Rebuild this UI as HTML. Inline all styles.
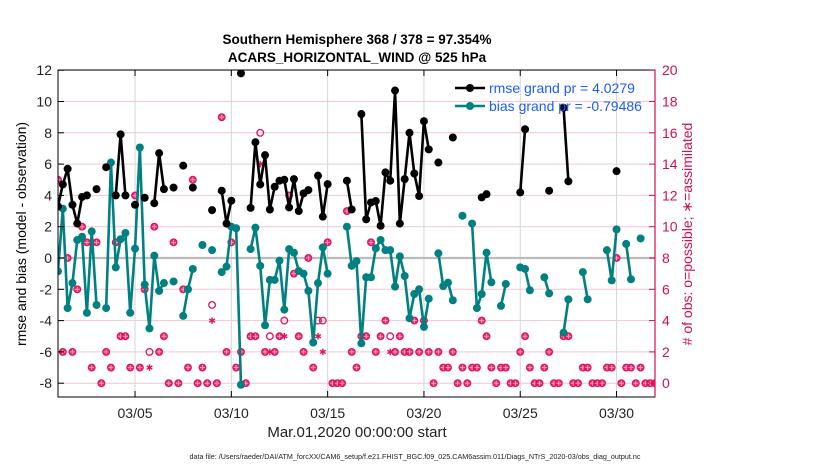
<!DOCTYPE html>
<html><head><meta charset="utf-8"><style>
html,body{margin:0;padding:0;background:#fff;}
svg{display:block;font-family:"Liberation Sans",Arial,sans-serif;}
</style></head><body>
<svg id="chart" width="830" height="470" viewBox="0 0 830 470">
<rect width="830" height="470" fill="#fff"/>
<text x="357" y="44" text-anchor="middle" font-size="13.5" font-weight="bold">Southern Hemisphere 368 / 378 = 97.354%</text>
<text x="357" y="62" text-anchor="middle" font-size="13.5" font-weight="bold">ACARS_HORIZONTAL_WIND @ 525 hPa</text>
<g id="grid"></g>
<g id="plot" clip-path="url(#clip)"></g>
<defs><clipPath id="clip"><rect x="58" y="70" width="597" height="327"/></clipPath></defs>
<rect x="58" y="70" width="597" height="327" fill="none" stroke="#000" stroke-width="1"/>
<line x1="655" y1="70" x2="655" y2="397" stroke="#d01050" stroke-width="1.2"/>
<g id="axes"></g>
<text transform="translate(26,234) rotate(-90)" text-anchor="middle" font-size="14">rmse and bias (model - observation)</text>
<text transform="translate(692,234) rotate(-90)" text-anchor="middle" font-size="14" fill="#d01050"># of obs: o=possible; ∗=assimilated</text>
<text x="357" y="437" text-anchor="middle" font-size="15" fill="#222">Mar.01,2020 00:00:00 start</text>
<text x="415" y="459" text-anchor="middle" font-size="7.2" fill="#222">data file: /Users/raeder/DAI/ATM_forcXX/CAM6_setup/f.e21.FHIST_BGC.f09_025.CAM6assim.011/Diags_NTrS_2020-03/obs_diag_output.nc</text>
<g>
<rect x="450" y="76" width="200" height="38" fill="#fff" fill-opacity="0.0"/>
<line x1="455" y1="88" x2="485" y2="88" stroke="#000" stroke-width="2.5"/>
<circle cx="470" cy="88" r="4" fill="#000"/>
<text x="489" y="93" font-size="14" fill="#1a5cff">rmse grand pr = 4.0279</text>
<line x1="455" y1="106" x2="485" y2="106" stroke="#008080" stroke-width="2.5"/>
<circle cx="470" cy="106" r="4" fill="#008080"/>
<text x="489" y="111" font-size="14" fill="#1a5cff">bias grand pr = -0.79486</text>
</g>
</svg>
<script>
const N=null;
const rmse=[3.3,4.7,5.7,3.4,2.2,3.9,4.0,N,4.4,N,5.8,N,4.0,7.9,4.0,N,3.4,N,3.85,N,3.5,6.7,4.4,N,4.5,N,5.9,N,4.5,N,N,N,3.06,N,4.3,2.2,3.66,N,11.8,N,3.2,7.4,4.7,6.57,3.1,4.55,4.94,5.0,3.23,5.04,3.0,4.13,4.34,N,5.26,2.64,4.72,N,N,N,4.94,3.1,N,9.2,2.47,3.55,3.64,2.06,5.47,4.94,10.7,2.2,5.04,8.0,5.4,3.96,8.74,6.94,N,6.1,N,N,7.7,N,N,N,N,N,3.87,4.08,N,N,N,N,N,N,4.19,8.23,N,N,N,N,4.3,N,N,9.6,4.9,N,N,N,N,N,N,N,N,N,5.55,N,N,N,N,N,N,N,N];
const bias=[-0.85,3.15,-3.2,-1.6,1.15,1.36,-3.5,1.7,-3.0,N,-3.2,6.1,-0.6,1.2,1.6,-3.5,0.6,7.06,-1.7,-4.5,0.15,-2.1,-1.6,N,-1.5,N,-3.7,-2.0,-0.7,N,0.83,N,0.5,N,-0.9,-0.55,2.0,1.9,-8.1,N,0.57,1.94,-0.5,-4.3,-1.4,-1.4,-0.17,-3.3,0.57,0.34,-0.83,-1.0,-2.1,-5.4,-1.6,0.68,-1.0,N,N,N,2.0,-0.5,-0.2,-5.45,-1.23,-1.23,0.62,1.15,0.5,0.5,-1.83,0.1,-1.15,-3.85,-2.3,-2.0,-4.4,-2.6,N,0.3,-1.8,-1.57,-2.7,N,2.7,N,2.2,-3.2,-2.3,0.34,-1.55,N,-3.06,-1.66,N,N,-0.6,-0.7,-2.06,N,N,-1.23,-2.26,N,N,-4.77,-2.64,N,N,-0.9,-2.64,N,N,N,0.5,-1.43,1.83,N,0.9,-1.36,N,1.25,N,N,N];
const possible=[13,2,8,2,6,10,9,1,9,0,2,1,9,3,3,1,12,1,6,2,10,2,3,0,9,0,6,1,13,0,1,0,5,0,17,2,9,1,2,0,3,3,16,2,3,2,3,4,12,7,3,2,8,1,4,4,9,0,0,0,11,2,1,3,3,9,2,3,4,3,2,3,2,2,4,2,4,2,0,2,1,1,2,0,1,0,1,1,4,3,1,0,1,1,0,0,2,3,1,0,0,1,2,0,0,3,3,0,0,1,1,0,0,0,1,1,8,0,1,1,0,1,0,0,0];
const assimilated=[13,2,8,2,6,10,9,1,9,0,2,1,9,3,3,1,12,1,6,1,10,2,3,0,9,0,6,1,13,0,1,0,4,0,17,2,9,1,2,0,3,3,14,2,2,2,3,3,12,7,3,2,8,1,3,2,9,0,0,0,11,2,1,3,3,9,2,3,4,2,2,3,2,2,4,2,4,2,0,2,1,1,2,0,1,0,1,1,4,3,1,0,1,1,0,0,2,3,1,0,0,1,2,0,0,3,3,0,0,1,1,0,0,0,1,1,8,0,1,1,0,1,0,0,0];
const leftTicks=[-8,-6,-4,-2,0,2,4,6,8,10,12];
const rightTicks=[0,2,4,6,8,10,12,14,16,18,20];
const xTickDays=[4,9,14,19,24,29];
const xTickLabels=["03/05","03/10","03/15","03/20","03/25","03/30"];
const slotsPerDay=4;

const NS="http://www.w3.org/2000/svg";
const X0=58,PXDAY=19.26,Y0=258,PXUNIT=15.65;
function xDay(d){return X0+d*PXDAY;}
function xSlot(k){return xDay(k/slotsPerDay);}
function yL(v){return Y0-v*PXUNIT;}
function yR(r){return yL(r-8);}
function mk(tag,attrs,parent){const e=document.createElementNS(NS,tag);for(const a in attrs)e.setAttribute(a,attrs[a]);parent.appendChild(e);return e;}
const grid=document.getElementById('grid'),plot=document.getElementById('plot'),axes=document.getElementById('axes');

rightTicks.forEach(r=>{
  const l=mk('line',{x1:58,x2:655,y1:yR(r),y2:yR(r),stroke:'#f2c6d6','stroke-width':1},grid);
  
  
  const tk=mk('line',{x1:649,x2:655,y1:yR(r),y2:yR(r),stroke:'#d01050','stroke-width':1},axes);
  
  
  const t=mk('text',{x:662,y:yR(r)+5,'font-size':14,fill:'#d01050'},axes);
  t.textContent=r;
  
  
});
xTickDays.forEach((d,i)=>{
  const l=mk('line',{x1:xDay(d),x2:xDay(d),y1:70,y2:397,stroke:'#d6d6d6','stroke-width':1},grid);
  
  
  mk('line',{x1:xDay(d),x2:xDay(d),y1:391,y2:397,stroke:'#000'},axes);
  mk('line',{x1:xDay(d),x2:xDay(d),y1:70,y2:76,stroke:'#000'},axes);
  const t=mk('text',{x:xDay(d),y:418,'font-size':14,'text-anchor':'middle',fill:'#222'},axes);
  t.textContent=xTickLabels[i];
  
  
});
const z=mk('line',{x1:58,x2:655,y1:yL(0),y2:yL(0),stroke:'#bbbbbb','stroke-width':2.2},grid);


leftTicks.forEach(v=>{
  mk('line',{x1:58,x2:64,y1:yL(v),y2:yL(v),stroke:'#000'},axes);
  const t=mk('text',{x:52,y:yL(v)+5,'font-size':14,'text-anchor':'end',fill:'#222'},axes);
  t.textContent=v;
  
  
});

// obs counts
const red='#e0115f';
function circ(k,r){const c=mk('circle',{cx:xSlot(k),cy:yR(r),r:3.3,fill:'none',stroke:red,'stroke-width':1.3},plot);
  
  }
function star(k,r){const cx=xSlot(k),cy=yR(r),s=3.3;const g=mk('g',{stroke:red,'stroke-width':1.4},plot);
  
  
  mk('line',{x1:cx,x2:cx,y1:cy-s,y2:cy+s},g);
  mk('line',{x1:cx-s*0.87,x2:cx+s*0.87,y1:cy-s*0.5,y2:cy+s*0.5},g);
  mk('line',{x1:cx-s*0.87,x2:cx+s*0.87,y1:cy+s*0.5,y2:cy-s*0.5},g);}
possible.forEach((p,k)=>{
  if(p===null)return;
  const a=assimilated[k];
  if(a===p){const c=mk('circle',{cx:xSlot(k),cy:yR(p),r:3.3,fill:red,'fill-opacity':0.85},plot);
    
    
    circ(k,p);
    const g=mk('g',{stroke:'#ffb0c8','stroke-width':0.8},plot);
    const cx=xSlot(k),cy=yR(p),s=2.5;
    mk('line',{x1:cx,x2:cx,y1:cy-s,y2:cy+s},g);
    mk('line',{x1:cx-s,x2:cx+s,y1:cy,y2:cy},g);
  } else {circ(k,p); if(a!==null) star(k,a);}
});

function series(vals,color,name){
  let seg=[];
  const segs=[];
  vals.forEach((v,k)=>{if(v===null){if(seg.length)segs.push(seg);seg=[];}else seg.push([xSlot(k),yL(v)]);});
  if(seg.length)segs.push(seg);
  segs.forEach(s=>{if(s.length>1){const p=mk('polyline',{points:s.map(q=>q.join(',')).join(' '),fill:'none',stroke:color,'stroke-width':2.6,'stroke-linejoin':'round'},plot);
    
    }});
  vals.forEach((v,k)=>{if(v===null)return;const c=mk('circle',{cx:xSlot(k),cy:yL(v),r:4,fill:color},plot);
    
    });
}
series(bias,'#008080','bias');
series(rmse,'#000000','rmse');
</script>
</body></html>
